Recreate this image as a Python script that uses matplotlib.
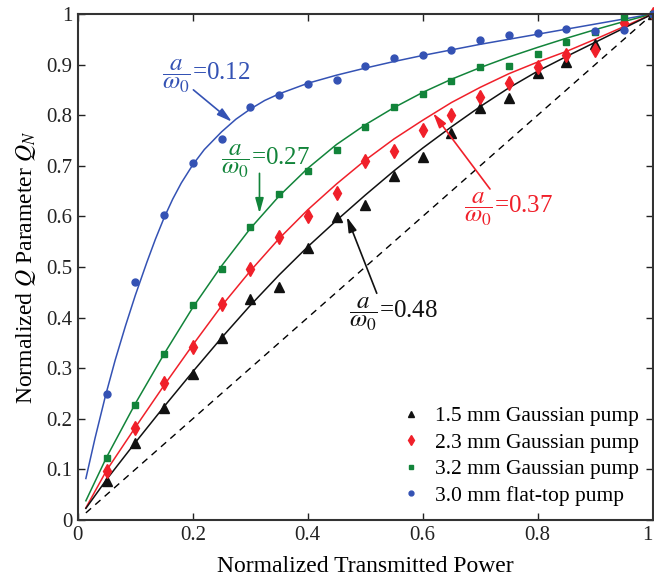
import matplotlib
matplotlib.use("Agg")
import matplotlib.pyplot as plt

plt.rcParams['font.family'] = ['Liberation Serif', 'DejaVu Serif']
plt.rcParams['mathtext.fontset'] = 'stix'

# measured points
x_pts = [0.05, 0.1, 0.15, 0.2, 0.25, 0.3, 0.35, 0.4, 0.45, 0.5,
         0.55, 0.6, 0.65, 0.7, 0.75, 0.8, 0.85, 0.9, 0.95, 1.0]
blue_pts = [0.248, 0.471, 0.603, 0.705, 0.752, 0.817, 0.839, 0.862, 0.869, 0.897,
            0.912, 0.918, 0.928, 0.949, 0.959, 0.962, 0.970, 0.966, 0.968, 1.0]
green_pts = [0.122, 0.227, 0.328, 0.424, 0.495, 0.579, 0.644, 0.690, 0.731, 0.777,
             0.816, 0.842, 0.868, 0.896, 0.897, 0.921, 0.944, 0.965, 0.994, 1.0]
red_pts = [0.097, 0.181, 0.270, 0.342, 0.427, 0.495, 0.560, 0.601, 0.646, 0.709,
           0.730, 0.771, 0.801, 0.836, 0.863, 0.896, 0.918, 0.929, 0.982, 1.0]
x_blk = [0.05, 0.1, 0.15, 0.2, 0.25, 0.3, 0.35, 0.4, 0.45, 0.5,
         0.55, 0.6, 0.65, 0.7, 0.75, 0.8, 0.85, 0.9, 1.0]
black_pts = [0.078, 0.152, 0.222, 0.288, 0.359, 0.437, 0.460, 0.538, 0.599, 0.623,
             0.680, 0.718, 0.764, 0.814, 0.833, 0.883, 0.906, 0.940, 1.0]

# model curves
xb = [0.014, 0.03, 0.048, 0.065, 0.083, 0.1, 0.12, 0.135, 0.15, 0.165, 0.18,
      0.2, 0.22, 0.25, 0.275, 0.3, 0.325, 0.35, 0.4, 0.45, 0.5, 0.55, 0.6,
      0.65, 0.7, 0.75, 0.8, 0.85, 0.9, 0.95, 1.0]
yb = [0.082, 0.162, 0.245, 0.316, 0.384, 0.444, 0.509, 0.555, 0.597, 0.634, 0.666,
      0.702, 0.732, 0.767, 0.792, 0.812, 0.829, 0.842, 0.863, 0.879, 0.893, 0.906, 0.918,
      0.929, 0.940, 0.950, 0.960, 0.970, 0.980, 0.990, 1.0]
xc = [0.014, 0.05, 0.1, 0.15, 0.2, 0.25, 0.3, 0.35, 0.4, 0.45, 0.5,
      0.55, 0.6, 0.65, 0.7, 0.75, 0.8, 0.85, 0.9, 0.95, 1.0]
yg = [0.038, 0.124, 0.230, 0.328, 0.420, 0.502, 0.576, 0.640, 0.695, 0.742, 0.781,
      0.815, 0.845, 0.871, 0.894, 0.915, 0.934, 0.952, 0.969, 0.985, 1.0]
yr = [0.024, 0.098, 0.183, 0.266, 0.346, 0.423, 0.492, 0.556, 0.613, 0.664, 0.711,
      0.753, 0.790, 0.825, 0.855, 0.882, 0.905, 0.926, 0.950, 0.975, 1.0]
yk = [0.023, 0.080, 0.153, 0.224, 0.293, 0.360, 0.424, 0.484, 0.540, 0.592, 0.642,
      0.690, 0.735, 0.777, 0.817, 0.854, 0.887, 0.916, 0.944, 0.972, 1.0]

blue = '#3452b4'
green = '#12843a'
red = '#f0202a'
black = '#111111'

labels = ['1.5 mm Gaussian pump', '2.3 mm Gaussian pump',
          '3.2 mm Gaussian pump', '3.0 mm flat-top pump']

# annotation text: (value, colour, text pos, arrow tail, arrow tip)
notes = [('0.12', blue, (0.146, 0.877), (0.201, 0.850), (0.268, 0.787)),
         ('0.27', green, (0.249, 0.708), (0.316, 0.685), (0.316, 0.606)),
         ('0.37', red, (0.671, 0.613), (0.717, 0.654), (0.618, 0.804)),
         ('0.48', black, (0.471, 0.407), (0.520, 0.448), (0.468, 0.599))]

fig = plt.figure(figsize=(6.54, 5.81), dpi=100)
ax = fig.add_axes([0.119, 0.105, 0.879, 0.871])

ax.plot([0.014, 1.0], [0.014, 1.0], '--', color='black', lw=1.0, dashes=(5, 4))
ax.plot(xb, yb, color=blue, lw=1.1)
ax.plot(xc, yg, color=green, lw=1.1)
ax.plot(xc, yr, color=red, lw=1.1)
ax.plot(xc, yk, color=black, lw=1.1)

h1, = ax.plot(x_blk, black_pts, '^', color=black, ms=7, ls='none', clip_on=False)
h2, = ax.plot(x_pts, red_pts, 'd', color=red, ms=7.5, ls='none', clip_on=False)
h3, = ax.plot(x_pts, green_pts, 's', color=green, ms=4.5, ls='none', clip_on=False)
h4, = ax.plot(x_pts, blue_pts, 'o', color=blue, ms=5, ls='none', clip_on=False)

ax.legend([h1, h2, h3, h4], labels, loc='lower right', frameon=False,
          fontsize=15.5, markerscale=0.7, handletextpad=0.5, labelspacing=0.3,
          borderaxespad=0.25, handlelength=1.2)

for val, col, tpos, tail, tip in notes:
    ax.text(tpos[0], tpos[1], r'$\dfrac{a}{\omega_0}$=' + val, color=col,
            fontsize=18, va='center', ha='left')
    ax.annotate('', xy=tip, xytext=tail,
                arrowprops=dict(arrowstyle='-|>,head_length=0.9,head_width=0.25',
                                color=col, lw=1.2, mutation_scale=10,
                                shrinkA=0, shrinkB=0))

ax.set_xlim(0, 1)
ax.set_ylim(0, 1)
ax.set_xticks([0, 0.2, 0.4, 0.6, 0.8, 1])
ax.set_xticklabels(['0', '0.2', '0.4', '0.6', '0.8', '1'])
ax.get_xticklabels()[-1].set_ha('right')
ax.set_yticks([i / 10 for i in range(11)])
ax.set_yticklabels(['0'] + ['0.%d' % i for i in range(1, 10)] + ['1'])
ax.tick_params(direction='in', top=True, right=True, labelsize=15, length=5,
               width=1.0, colors='#222222', pad=4)
for s in ax.spines.values():
    s.set_linewidth(1.5)
    s.set_color('#333333')

ax.set_xlabel('Normalized Transmitted Power', fontsize=17, labelpad=8)
ax.set_ylabel(r'Normalized $Q$ Parameter $Q_N$', fontsize=17, labelpad=6)

fig.savefig('out.png', dpi=100)
